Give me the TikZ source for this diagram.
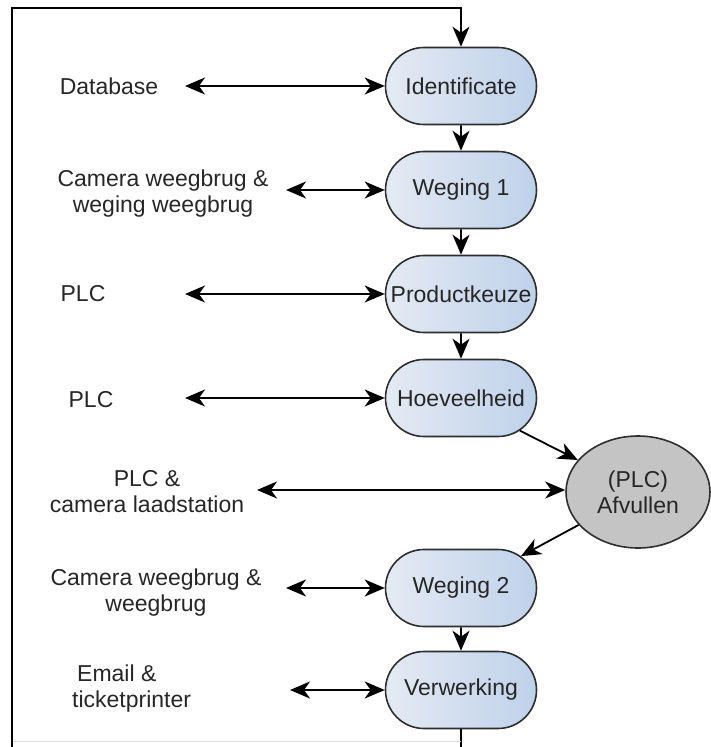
\documentclass[tikz,border=0pt]{standalone}
\usepackage{fontspec}
\setmainfont{Liberation Sans}
\usetikzlibrary{shapes.misc,shapes.geometric,arrows.meta}
\definecolor{nodeL}{HTML}{E4EAF3}
\definecolor{nodeR}{HTML}{BFD1EA}
\definecolor{afv}{HTML}{C4C4C4}
\definecolor{edge}{HTML}{2E2E2E}
\definecolor{txt}{HTML}{262626}
\begin{document}
\begin{tikzpicture}[x=1pt,y=-1pt,
  every node/.style={font=\fontsize{23}{26}\selectfont, text=txt},
  stepbox/.style={rounded rectangle, draw=edge, line width=1.6pt,
    minimum width=155pt, minimum height=77pt, inner sep=2pt,
    left color=nodeL, right color=nodeR},
  afvbox/.style={ellipse, draw=edge, line width=1.6pt, fill=afv,
    minimum width=144pt, minimum height=112pt, inner sep=0pt, align=center},
  lbl/.style={align=center, inner sep=0pt},
  conn/.style={line width=1.8pt, draw=black, -{Stealth[length=20pt,width=17pt,inset=6pt]}},
  both/.style={line width=1.8pt, draw=black, {Stealth[length=20pt,width=17pt,inset=6pt]}-{Stealth[length=20pt,width=17pt,inset=6pt]}},
  plain/.style={line width=1.8pt, draw=black}
]
\useasboundingbox (0,0) rectangle (711,747);

% process nodes
\node[stepbox] (ident) at (461,86) {Identificate};
\node[stepbox] (weg1) at (461,190) {Weging 1};
\node[stepbox] (prod) at (461,294) {Productkeuze};
\node[stepbox] (hoev) at (461,398) {Hoeveelheid};
\node[afvbox] (afv) at (638,492) {(PLC)\\Afvullen};
\node[stepbox] (weg2) at (461,588) {Weging 2};
\node[stepbox] (verw) at (461,690) {Verwerking};

% left labels
\node[lbl] (db) at (109,86) {Database};
\node[lbl] (cam1) at (163,194) {Camera weegbrug \&\\weging weegbrug};
\node[lbl] (plc1) at (83,294) {PLC};
\node[lbl] (plc2) at (91,400) {PLC};
\node[lbl] (plccam) at (147,492) {PLC \&\\camera laadstation};
\node[lbl] (cam2) at (156,593) {Camera weegbrug \&\\weegbrug};
\node[lbl, align=left, anchor=west] (mail) at (72,689) {\hspace*{5pt}Email \&\\ticketprinter};

% arrow end points on the left
\coordinate (dbE) at (185,86);
\coordinate (cam1E) at (286,190);
\coordinate (plc1E) at (185,294);
\coordinate (plc2E) at (185,398);
\coordinate (plccamE) at (257,490);
\coordinate (cam2E) at (286,588);
\coordinate (mailE) at (290,690);

\draw[both] (dbE) -- (ident.west);
\draw[both] (cam1E) -- (weg1.west);
\draw[both] (plc1E) -- (prod.west);
\draw[both] (plc2E) -- (hoev.west);
\draw[both] (plccamE) -- (plccamE -| afv.west);
\draw[both] (cam2E) -- (weg2.west);
\draw[both] (mailE) -- (verw.west);

% main flow
\draw[conn] (ident) -- (weg1);
\draw[conn] (weg1) -- (prod);
\draw[conn] (prod) -- (hoev);
\draw[conn] (hoev.-29) -- (afv.152);
\draw[conn] (afv.209) -- (weg2.28);
\draw[conn] (weg2) -- (verw);

% feedback loop
\coordinate (loopBR) at (461,747);
\coordinate (loopBL) at (12,747);
\coordinate (loopTL) at (12,8);
\draw[plain] (verw.south) -- (loopBR);
\draw[black!15, line width=1pt] (12,741) -- (461,741);
\draw[conn] (loopBL) -- (loopTL) -| (ident.north);
\end{tikzpicture}
\end{document}
